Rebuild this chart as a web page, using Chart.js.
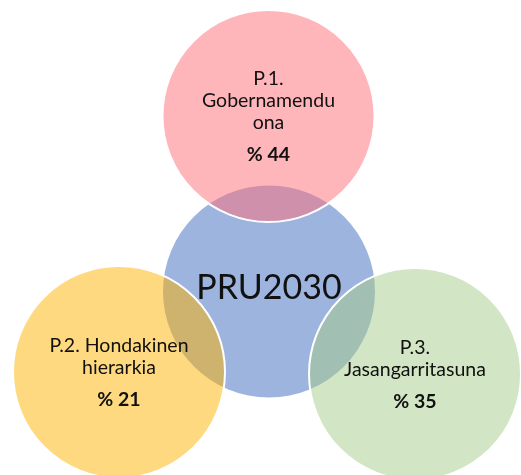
<!DOCTYPE html>
<html>
<head>
<meta charset="utf-8">
<script src="https://cdn.jsdelivr.net/npm/chart.js@4.4.1/dist/chart.umd.min.js"></script>
<style>
  html, body { margin: 0; padding: 0; background: #ffffff; }
  #wrap { width: 521px; height: 475px; }
</style>
</head>
<body>
<div id="wrap"><canvas id="c" width="521" height="475"></canvas></div>
<script>
// ---- data ----
const centerLabel = ["PRU2030"];
const categories = [
  ["P.1.", "Gobernamendu", "ona"],
  ["P.2. Hondakinen", "hierarkia"],
  ["P.3.", "Jasangarritasuna"]
];
const shares = [44, 21, 35];
const circleX = [268.5, 119, 415];
const circleY = [116, 372, 374];
const centerX = [269];
const centerY = [291.5];

// ---- styles ----
const fillColors = ["rgba(255,109,119,0.5)", "rgba(253,179,0,0.5)", "rgba(165,203,137,0.5)"];
const centerFill = "rgba(59,105,189,0.5)";
const radiusPx = 106;

const textPlugin = {
  id: 'vennText',
  afterDatasetsDraw(chart) {
    const ctx = chart.ctx;
    ctx.save();
    ctx.textAlign = 'center';
    ctx.textBaseline = 'alphabetic';
    ctx.fillStyle = '#111111';
    const cm = chart.getDatasetMeta(1);
    cm.data.forEach((el, i) => {
      ctx.font = '34px Lato';
      ctx.fillText(centerLabel[i], el.x, el.y + 7);
    });
    const m = chart.getDatasetMeta(0);
    const lh = 21.7, gap = 32;
    m.data.forEach((el, i) => {
      const lines = categories[i];
      const n = lines.length;
      const total = (n - 1) * lh + gap;
      let y = el.y - total / 2 + 7;
      ctx.font = '19.5px Lato';
      lines.forEach((ln, k) => {
        ctx.fillText(ln, el.x, y + k * lh);
      });
      ctx.font = 'bold 19.5px Lato';
      ctx.fillText('% ' + shares[i], el.x, y + (n - 1) * lh + gap);
    });
    ctx.restore();
  }
};

new Chart(document.getElementById('c'), {
  type: 'bubble',
  data: {
    datasets: [
      {
        label: 'categories',
        data: categories.map((c, i) => ({ x: circleX[i], y: circleY[i], r: radiusPx })),
        backgroundColor: fillColors,
        borderColor: '#ffffff',
        borderWidth: 2,
        clip: false,
        order: 0
      },
      {
        label: 'center',
        data: centerLabel.map((c, i) => ({ x: centerX[i], y: centerY[i], r: radiusPx })),
        backgroundColor: centerFill,
        borderWidth: 0,
        clip: false,
        order: 1
      }
    ]
  },
  options: {
    responsive: false,
    animation: false,
    events: [],
    layout: { padding: 0, autoPadding: false },
    plugins: { legend: { display: false }, tooltip: { enabled: false } },
    scales: {
      x: { type: 'linear', min: 0, max: 521, display: false },
      y: { type: 'linear', min: 0, max: 475, reverse: true, display: false }
    }
  },
  plugins: [textPlugin]
});
</script>
</body>
</html>
